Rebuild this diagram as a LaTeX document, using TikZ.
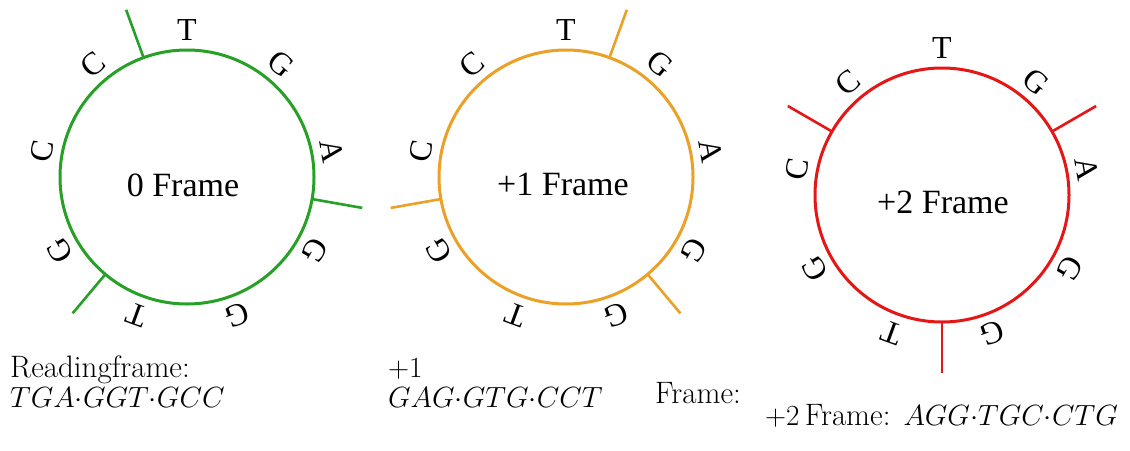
\RequirePackage{fix-cm}
\documentclass[tikz,border=0pt]{standalone}
\usepackage{fontspec}
\newfontfamily\libserif{Liberation Serif}
\usetikzlibrary{calc}
\definecolor{fgreen}{RGB}{38,160,38}
\definecolor{forange}{RGB}{235,160,40}
\definecolor{fred}{RGB}{230,22,22}
\newcommand{\dt}{{\cdot}}
\newcommand{\mth}[1]{{\fontsize{29.2}{30}\selectfont$#1$}}
\begin{document}
\begin{tikzpicture}[x=1pt,y=-1pt,
  ring/.style={circle,draw=#1,line width=3pt,inner sep=0pt,outer sep=0pt,minimum size=254pt},
  tick/.style={draw=#1,line width=2.6pt},
  base/.style={font=\libserif\fontsize{32}{32}\selectfont,inner sep=0pt},
  title/.style={font=\libserif\fontsize{34}{34}\selectfont,inner sep=0pt},
  caption/.style={font=\fontsize{31}{30}\selectfont,inner sep=0pt,anchor=base west,align=left}]
\useasboundingbox (0,0) rectangle (1130,450);
% rings
\node[ring=fgreen] (r1) at (187,177) {};
\node[ring=forange] (r2) at (566,177) {};
\node[ring=fred] (r3) at (942,195) {};
% titles
\node[title] (t1) at (183,185) {0 Frame};
\node[title] (t2) at (563,184) {+1 Frame};
\node[title] (t3) at (943,202) {+2 Frame};
% bases
\foreach \r in {r1,r2,r3}{
  \foreach \b [count=\i from 0] in {T,G,A,G,G,T,G,C,C}{
    \pgfmathsetmacro{\ang}{90-40*\i}
    \node[base,rotate=\ang-90] (\r-b\i) at ($(\r.center)+(\ang:147pt)$) {\b};
  }
}
% ticks
\foreach \a [count=\k] in {110,-10,-130}{
  \coordinate (r1-e\k) at ($(r1.center)+(\a:178pt)$);
  \draw[tick=fgreen] (r1.\a) -- (r1-e\k);
}
\foreach \a [count=\k] in {70,-50,190}{
  \coordinate (r2-e\k) at ($(r2.center)+(\a:178pt)$);
  \draw[tick=forange] (r2.\a) -- (r2-e\k);
}
\foreach \a [count=\k] in {30,-90,150}{
  \coordinate (r3-e\k) at ($(r3.center)+(\a:178pt)$);
  \draw[tick=fred] (r3.\a) -- (r3-e\k);
}
% captions
\node[caption] (c1) at (10,407) {Readingframe:\\\mth{TGA\dt GGT\dt GCC}};
\node[caption] (c2) at (388,407) {\mth{+1}\\\mth{GAG\dt GTG\dt CCT}};
\node[caption] (c3) at (655,403) {Frame:};
\node[caption] (c4) at (765,425) {\mth{+2}\,Frame:\hspace{13pt}\mth{AGG\dt TGC\dt CTG}};
\end{tikzpicture}
\end{document}
